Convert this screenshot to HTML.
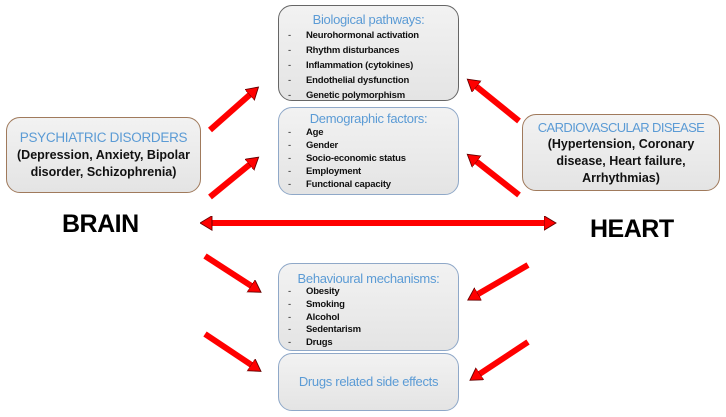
<!DOCTYPE html>
<html><head><style>
body{margin:0;width:726px;height:417px;background:#fff;position:relative;overflow:hidden;font-family:"Liberation Sans Narrow","Liberation Sans",sans-serif}
.b{position:absolute;box-sizing:border-box;border-radius:14px;background:linear-gradient(#f2f2f2,#e4e4e4);}
.t{color:#5b9bd5;text-align:center;font-size:13px;letter-spacing:-0.3px}
ul{list-style:none;margin:3px 0 0 0;padding:0 0 0 9px;font-size:9.5px;font-weight:bold;color:#111;line-height:15px;letter-spacing:-0.2px}
ul li:before{content:"-";display:inline-block;width:18px;font-weight:normal}
.big{position:absolute;font-weight:bold;font-size:25px;color:#000;letter-spacing:-0.5px}
</style></head><body>
<div class="b" style="left:278px;top:5px;width:181px;height:96px;border:1px solid #666">
<div class="t" style="margin-top:6px">Biological pathways:</div>
<ul style="margin-top:1px"><li>Neurohormonal activation</li><li>Rhythm disturbances</li><li>Inflammation (cytokines)</li><li>Endothelial dysfunction</li><li>Genetic polymorphism</li></ul></div>
<div class="b" style="left:278px;top:107px;width:181px;height:88px;border:1px solid #8fa8c8">
<div class="t" style="margin-top:3px">Demographic factors:</div>
<ul style="margin-top:0;line-height:13px"><li>Age</li><li>Gender</li><li>Socio-economic status</li><li>Employment</li><li>Functional capacity</li></ul></div>
<div class="b" style="left:278px;top:263px;width:181px;height:88px;border:1px solid #8fa8c8">
<div class="t" style="margin-top:7px">Behavioural mechanisms:</div>
<ul style="margin-top:0;line-height:12.8px"><li>Obesity</li><li>Smoking</li><li>Alcohol</li><li>Sedentarism</li><li>Drugs</li></ul></div>
<div class="b" style="left:278px;top:353px;width:181px;height:58px;border:1px solid #8fa8c8">
<div class="t" style="margin-top:20px">Drugs related side effects</div></div>
<div class="b" style="left:6px;top:117px;width:195px;height:76px;border:1px solid #a07a5c;text-align:center">
<div class="t" style="font-size:13.5px;margin-top:12px">PSYCHIATRIC DISORDERS</div>
<div style="font-size:12.5px;font-weight:bold;color:#111;line-height:17px;margin-top:2px">(Depression, Anxiety, Bipolar<br>disorder, Schizophrenia)</div></div>
<div class="b" style="left:522px;top:114px;width:198px;height:77px;border:1px solid #a07a5c;text-align:center">
<div class="t" style="font-size:13px;margin-top:5px;letter-spacing:-0.6px">CARDIOVASCULAR DISEASE</div>
<div style="font-size:12.5px;font-weight:bold;color:#111;line-height:17px;margin-top:1px">(Hypertension, Coronary<br>disease, Heart failure,<br>Arrhythmias)</div></div>
<div class="big" style="left:62px;top:210px">BRAIN</div>
<div class="big" style="left:590px;top:215px">HEART</div>
<svg width="726" height="417" style="position:absolute;left:0;top:0">
<defs><marker id="h" markerWidth="3" markerHeight="3" refX="1" refY="1.2" orient="auto" markerUnits="strokeWidth"><path d="M0,0L2,1.2L0,2.4Z" fill="#f00" stroke="#600" stroke-width="0.15"/></marker>
<marker id="s" markerWidth="3" markerHeight="3" refX="1" refY="1.2" orient="auto" markerUnits="strokeWidth"><path d="M2,0L0,1.2L2,2.4Z" fill="#f00" stroke="#600" stroke-width="0.15"/></marker></defs>
<g stroke="#f00" stroke-width="6" marker-end="url(#h)">
<line x1="210" y1="130" x2="254" y2="91"/>
<line x1="210" y1="197" x2="254" y2="161"/>
<line x1="519" y1="121" x2="472" y2="83"/>
<line x1="519" y1="195" x2="472" y2="158"/>
<line x1="205" y1="256" x2="256" y2="289"/>
<line x1="205" y1="334" x2="256" y2="368"/>
<line x1="528" y1="265" x2="473" y2="297"/>
<line x1="528" y1="342" x2="475" y2="377"/>
<line x1="206" y1="223" x2="550" y2="223" marker-start="url(#s)"/>
</g></svg>
</body></html>
